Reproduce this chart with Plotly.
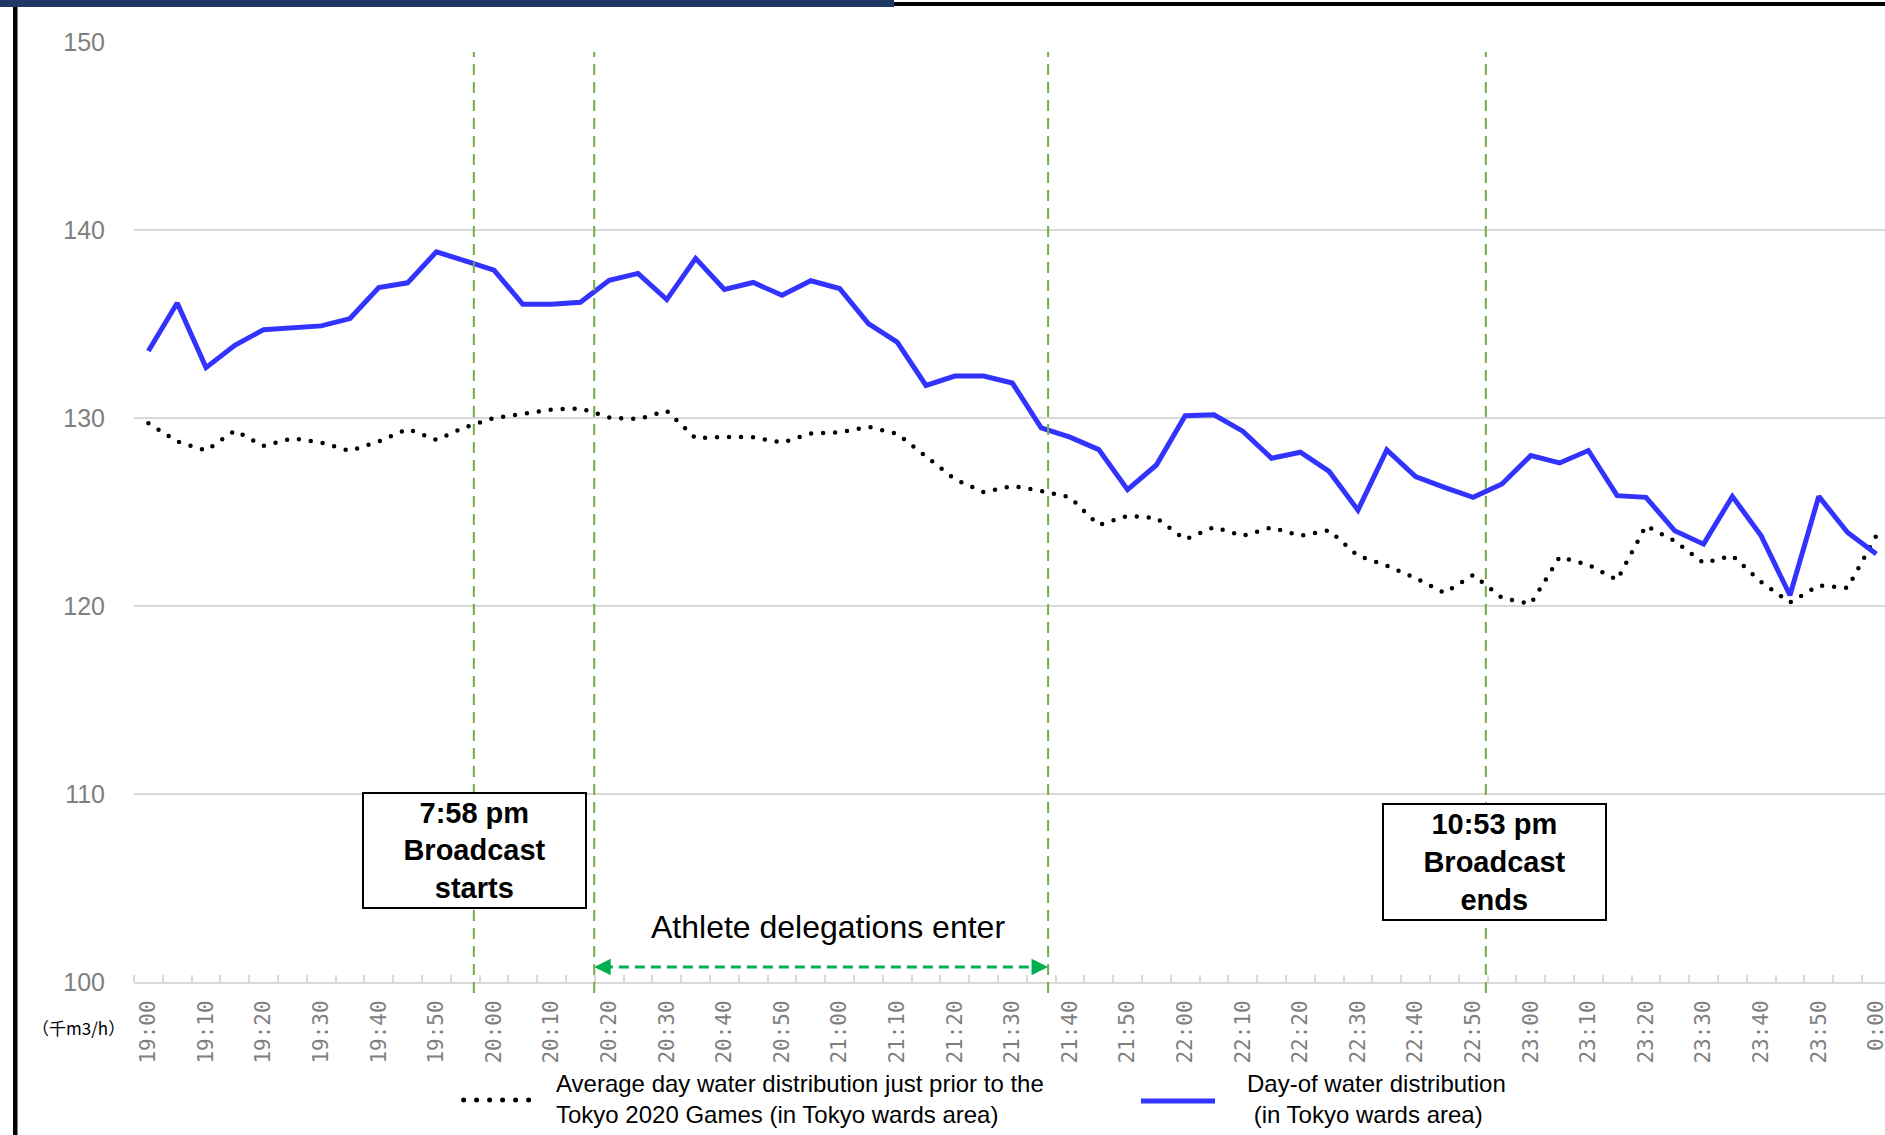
import plotly.graph_objects as go

# minutes after 19:00, one point every 5 minutes (19:00 ... 0:00)
minutes = list(range(0, 301, 5))

tick_minutes = list(range(0, 301, 10))
tick_labels = ["19:00", "19:10", "19:20", "19:30", "19:40", "19:50",
               "20:00", "20:10", "20:20", "20:30", "20:40", "20:50",
               "21:00", "21:10", "21:20", "21:30", "21:40", "21:50",
               "22:00", "22:10", "22:20", "22:30", "22:40", "22:50",
               "23:00", "23:10", "23:20", "23:30", "23:40", "23:50",
               "0:00"]

# day-of water distribution (thousand m3/h)
day_of = [133.56, 136.12, 132.68, 133.87, 134.70, 134.77, 134.90, 135.29, 136.94, 137.19,
          138.84, 138.36, 137.87, 136.05, 136.05, 136.16, 137.33, 137.69, 136.30, 138.49,
          136.84, 137.21, 136.53, 137.30, 136.89, 135.02, 134.04, 131.73, 132.23, 132.23,
          131.86, 129.48, 128.98, 128.32, 126.19, 127.50, 130.12, 130.17, 129.30, 127.86,
          128.18, 127.16, 125.10, 128.30, 126.88, 126.31, 125.78, 126.49, 128.00, 127.61,
          128.27, 125.87, 125.78, 124.00, 123.29, 125.83, 123.73, 120.57, 125.83, 123.91,
          122.76]

# average day just prior to the games
average = [129.72, 128.75, 128.27, 129.32, 128.52, 128.92, 128.69, 128.25, 128.75, 129.42,
           128.84, 129.51, 130.00, 130.20, 130.45, 130.51, 130.03, 129.94, 130.38, 128.92,
           128.99, 128.98, 128.69, 129.17, 129.24, 129.53, 129.16, 127.96, 126.74, 126.06,
           126.38, 126.12, 125.78, 124.30, 124.80, 124.68, 123.54, 124.20, 123.73, 124.18,
           123.73, 124.02, 122.67, 122.15, 121.49, 120.69, 121.65, 120.44, 120.11, 122.61,
           122.19, 121.39, 124.27, 123.45, 122.29, 122.68, 121.28, 120.18, 121.10, 120.96,
           123.75]

# event markers (minutes after 19:00, as placed on the chart)
broadcast_start = 56.5
delegations_start = 77.4
delegations_end = 156.2
broadcast_end = 232.2

W, H = 1885, 1135
ML, MR, MT, MB = 134, 0, 42, 153


def fx(px):
    return (px - ML) / (W - ML - MR)


def fy(py):
    return (H - MB - py) / (H - MT - MB)


fig = go.Figure()
fig.add_trace(go.Scatter(x=minutes, y=average, mode="lines", hoverinfo="skip",
                         line=dict(color="black", width=4.5, dash="0px,12px")))
fig.add_trace(go.Scatter(x=minutes, y=day_of, mode="lines", hoverinfo="skip",
                         line=dict(color="#3333FF", width=5)))

shapes = []
# frame bits of the original slide
shapes.append(dict(type="rect", xref="paper", yref="paper", x0=fx(0), x1=fx(894), y0=fy(7), y1=fy(0),
                   fillcolor="#203864", line=dict(width=0)))
shapes.append(dict(type="rect", xref="paper", yref="paper", x0=fx(894), x1=fx(W), y0=fy(6), y1=fy(2),
                   fillcolor="black", line=dict(width=0)))
shapes.append(dict(type="rect", xref="paper", yref="paper", x0=fx(13), x1=fx(17.5), y0=fy(H), y1=fy(7),
                   fillcolor="black", line=dict(width=0)))

for m in [broadcast_start, delegations_start, delegations_end, broadcast_end]:
    shapes.append(dict(type="line", xref="x", yref="paper", x0=m, x1=m, y0=fy(993), y1=fy(52),
                       line=dict(color="#70AD47", width=2, dash="11px,7px")))

# athlete delegation arrow
shapes.append(dict(type="line", xref="x", yref="y", x0=delegations_start + 1.5, x1=delegations_end - 1.5,
                   y0=100.8, y1=100.8, line=dict(color="#00B050", width=3, dash="10px,6px")))

# legend glyphs
shapes.append(dict(type="line", xref="paper", yref="paper", x0=fx(463.6), x1=fx(529), y0=fy(1100), y1=fy(1100),
                   line=dict(color="black", width=5, dash="0px,13px")))
shapes.append(dict(type="line", xref="paper", yref="paper", x0=fx(1141), x1=fx(1215), y0=fy(1101), y1=fy(1101),
                   line=dict(color="#3333FF", width=5)))

box_font = dict(family="Liberation Sans, Arial, sans-serif", size=29, color="black")
legend_font = dict(family="Liberation Sans, Arial, sans-serif", size=24, color="black")


def note(px, py, text, font, xanchor="center", **kw):
    return dict(xref="paper", yref="paper", x=fx(px), y=fy(py), xanchor=xanchor, yanchor="middle",
                showarrow=False, text=text, font=font, **kw)


annotations = [
    note(474, 850.5, "<b>7:58 pm</b><br><b>Broadcast</b><br><b>starts</b>", box_font,
         bgcolor="white", bordercolor="black", borderwidth=2, borderpad=0, width=221, height=113),
    note(1494, 862, "<b>10:53 pm</b><br><b>Broadcast</b><br><b>ends</b>", box_font,
         bgcolor="white", bordercolor="black", borderwidth=2, borderpad=0, width=221, height=114),
    note(828, 927, "Athlete delegations enter",
         dict(family="Liberation Sans, Arial, sans-serif", size=32, color="black")),
    dict(xref="x", yref="y", x=delegations_start, y=100.8, ax=14, ay=0, text="", showarrow=True,
         arrowhead=2, arrowsize=1.1, arrowwidth=3, arrowcolor="#00B050", standoff=0),
    dict(xref="x", yref="y", x=delegations_end, y=100.8, ax=-14, ay=0, text="", showarrow=True,
         arrowhead=2, arrowsize=1.1, arrowwidth=3, arrowcolor="#00B050", standoff=0),
    note(30, 1027, "（千m3/h）", dict(family="Noto Sans CJK JP", size=17, color="black"), xanchor="left"),
    note(554, 1099, "Average day water distribution just prior to the<br>Tokyo 2020 Games (in Tokyo wards area)",
         legend_font, xanchor="left", align="left"),
    note(1245, 1099, "Day-of water distribution<br> (in Tokyo wards area)",
         legend_font, xanchor="left", align="left"),
]

fig.update_layout(
    template="none",
    width=W, height=H,
    margin=dict(l=ML, r=MR, t=MT, b=MB, pad=0),
    paper_bgcolor="white", plot_bgcolor="white",
    showlegend=False,
    shapes=shapes,
    annotations=annotations,
    xaxis=dict(range=[-2.5, 301.5], tickmode="array", tickvals=tick_minutes, ticktext=tick_labels,
               tickangle=-90, ticks="", ticklabelstandoff=8, ticklabeloverflow="allow",
               tickfont=dict(family="DejaVu Sans Mono", size=21, color="#7F7F7F"),
               showgrid=False, zeroline=False, showline=True, linecolor="#D9D9D9", linewidth=2,
               minor=dict(tickmode="linear", tick0=-2.5, dtick=5, ticks="inside", ticklen=7,
                          tickcolor="#D9D9D9", tickwidth=1.5, showgrid=False),
               automargin=False, fixedrange=True),
    yaxis=dict(range=[100, 150], tickmode="array", tickvals=[100, 110, 120, 130, 140, 150],
               ticks="", ticklabelstandoff=28,
               tickfont=dict(family="Liberation Sans Narrow, Liberation Sans, Arial", size=25, color="#7F7F7F"),
               showgrid=True, gridcolor="#D9D9D9", gridwidth=2, zeroline=False, showline=False,
               automargin=False, fixedrange=True),
)

post = """
document.body.style.margin = '0';
document.body.style.overflow = 'hidden';
var gd = document.getElementsByClassName('plotly-graph-div')[0];
function roundDots() {
  gd.querySelectorAll('path').forEach(function (p) {
    var d = (p.style.strokeDasharray || '').replace(/\\s/g, '');
    if (d.indexOf('0px,') === 0) { p.style.strokeLinecap = 'round'; }
  });
}
roundDots();
gd.on('plotly_afterplot', roundDots);
"""

fig.write_html("out.html", post_script=post, config={"displayModeBar": False})
